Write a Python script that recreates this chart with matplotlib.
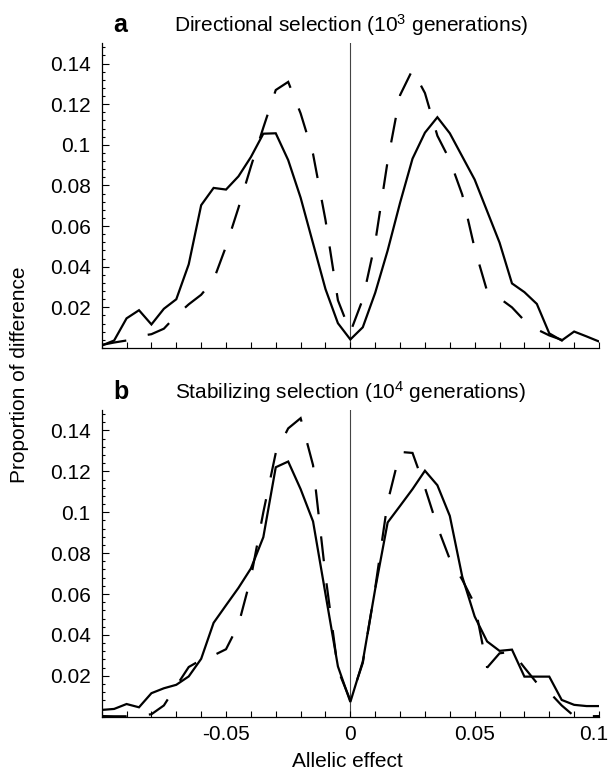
import numpy as np
import matplotlib

matplotlib.use("Agg")
import matplotlib.pyplot as plt
import matplotlib.transforms as mtransforms
from matplotlib.ticker import MultipleLocator, FixedLocator

plt.rcParams["font.family"] = ["Liberation Sans", "DejaVu Sans"]
plt.rcParams["mathtext.fontset"] = "custom"
plt.rcParams["mathtext.rm"] = "Liberation Sans"
plt.rcParams["mathtext.it"] = "Liberation Sans:italic"
plt.rcParams["mathtext.bf"] = "Liberation Sans:bold"
plt.rcParams["lines.scale_dashes"] = False

# allelic effect grid
effect = [-0.100, -0.095, -0.090, -0.085, -0.080, -0.075, -0.070, -0.065, -0.060,
          -0.055, -0.050, -0.045, -0.040, -0.035, -0.030, -0.025, -0.020, -0.015,
          -0.010, -0.005, 0.000, 0.005, 0.010, 0.015, 0.020, 0.025, 0.030, 0.035,
          0.040, 0.045, 0.050, 0.055, 0.060, 0.065, 0.070, 0.075, 0.080, 0.085,
          0.090, 0.095, 0.100]

# panel a: directional selection, 10^3 generations
solid_a = [0.0012, 0.0037, 0.0146, 0.0186, 0.0116, 0.0193, 0.0240, 0.0412, 0.0703,
           0.0788, 0.0780, 0.0845, 0.0940, 0.1055, 0.1057, 0.0925, 0.0740, 0.0515,
           0.0290, 0.0122, 0.0042, 0.0102, 0.0272, 0.0480, 0.0715, 0.0932, 0.1060,
           0.1136, 0.1057, 0.0943, 0.0829, 0.0674, 0.0519, 0.0318, 0.0275, 0.0217,
           0.0072, 0.0037, 0.0081, 0.0057, 0.0032]
dashed_a = [0.0015, 0.0027, 0.0037, 0.0058, 0.0068, 0.0095, 0.0160, 0.0215, 0.0262,
            0.0335, 0.0500, 0.0690, 0.0893, 0.1085, 0.1270, 0.1310, 0.1155, 0.0955,
            0.0630, 0.0235, 0.0078, 0.0240, 0.0520, 0.0920, 0.1245, 0.1370, 0.1255,
            0.1045, 0.0925, 0.0755, 0.0490, 0.0280, 0.0245, 0.0200, 0.0135, 0.0092,
            0.0062, 0.0040, 0.0005, np.nan, np.nan]

# panel b: stabilizing selection, 10^4 generations
solid_b = [0.0033, 0.0038, 0.0062, 0.0046, 0.0115, 0.0139, 0.0156, 0.0197, 0.0283,
           0.0459, 0.0545, 0.0630, 0.0725, 0.0878, 0.1220, 0.1248, 0.1113, 0.0955,
           0.0600, 0.0246, 0.0072, 0.0270, 0.0625, 0.0950, 0.1031, 0.1113, 0.1203,
           0.1132, 0.0982, 0.0685, 0.0490, 0.0368, 0.0322, 0.0328, 0.0196, 0.0196,
           0.0196, 0.0082, 0.0058, 0.0052, 0.0052]
dashed_b = [0.0003, 0.0002, 0.0002, 0.0005, 0.0012, 0.0055, 0.0150, 0.0243, 0.0278,
            0.0300, 0.0330, 0.0450, 0.0680, 0.1000, 0.1290, 0.1410, 0.1460, 0.1230,
            0.0690, 0.0230, 0.0080, 0.0263, 0.0630, 0.1050, 0.1295, 0.1290, 0.1120,
            0.0930, 0.0770, 0.0670, 0.0550, 0.0240, 0.0310, 0.0318, 0.0240, 0.0165,
            0.0120, 0.0055, 0.0003, 0.0002, 0.0003]

panels = [
    ("a", r"Directional selection (10$^3$ generations)", solid_a, dashed_a),
    ("b", r"Stabilizing selection (10$^4$ generations)", solid_b, dashed_b),
]
ytick_vals = [0.02, 0.04, 0.06, 0.08, 0.10, 0.12, 0.14]
ytick_text = ["0.02", "0.04", "0.06", "0.08", "0.1", "0.12", "0.14"]
xtick_vals = [-0.05, 0.0, 0.05, 0.1]
xtick_text = ["-0.05", "0", "0.05", "0.1"]

W, H = 611, 770
fig = plt.figure(figsize=(W / 100, H / 100), dpi=100)
boxes = [(43.3, 348.0), (410.0, 716.7)]  # top, bottom in pixels
left_px, right_px = 101.7, 599.0

for (tag, title, solid, dashed), (top, bot) in zip(panels, boxes):
    ax = fig.add_axes([left_px / W, 1 - bot / H, (right_px - left_px) / W, (bot - top) / H])
    ax.set_xlim(-0.1, 0.1)
    ax.set_ylim(0, 0.15)
    ax.axvline(0, color="#444444", lw=0.8, zorder=1)
    ax.plot(effect, solid, color="black", lw=1.6, solid_joinstyle="miter", zorder=3)
    ax.plot(effect, dashed, color="black", lw=1.6, ls=(0, (18, 16)),
            dash_joinstyle="miter", zorder=3)
    for side in ("top", "right"):
        ax.spines[side].set_visible(False)
    for side in ("left", "bottom"):
        ax.spines[side].set_linewidth(0.9)
    ax.yaxis.set_major_locator(FixedLocator(ytick_vals))
    ax.set_yticklabels(ytick_text)
    ax.yaxis.set_minor_locator(MultipleLocator(0.004))
    ax.xaxis.set_major_locator(FixedLocator(xtick_vals))
    ax.xaxis.set_minor_locator(MultipleLocator(0.01))
    ax.tick_params(axis="both", which="both", direction="in", width=0.8)
    ax.tick_params(axis="y", which="major", length=5, pad=8, labelsize=15)
    ax.tick_params(axis="y", which="minor", length=2.5)
    ax.tick_params(axis="x", which="both", length=4, pad=6, labelsize=15)
    if tag == "a":
        ax.tick_params(axis="x", labelbottom=False)
    else:
        ax.set_xticklabels(xtick_text)
        # the last label sits at the figure edge: nudge it inwards a little
        last = ax.get_xticklabels()[-1]
        last.set_transform(last.get_transform() +
                           mtransforms.ScaledTranslation(-5 / 100, 0, fig.dpi_scale_trans))
    base = 1 - (top - 11) / H
    fig.text(113 / W, base, tag, fontsize=18, fontweight="bold", va="baseline")
    fig.text(350.7 / W, base, title, fontsize=15, ha="center", va="baseline")

fig.text(20 / W, 1 - 375 / H, "Proportion of difference", fontsize=15,
         rotation=90, ha="center", va="center")
fig.text(347 / W, 1 - 767 / H, "Allelic effect", fontsize=15, ha="center", va="baseline")

fig.savefig("out.png", dpi=100)
